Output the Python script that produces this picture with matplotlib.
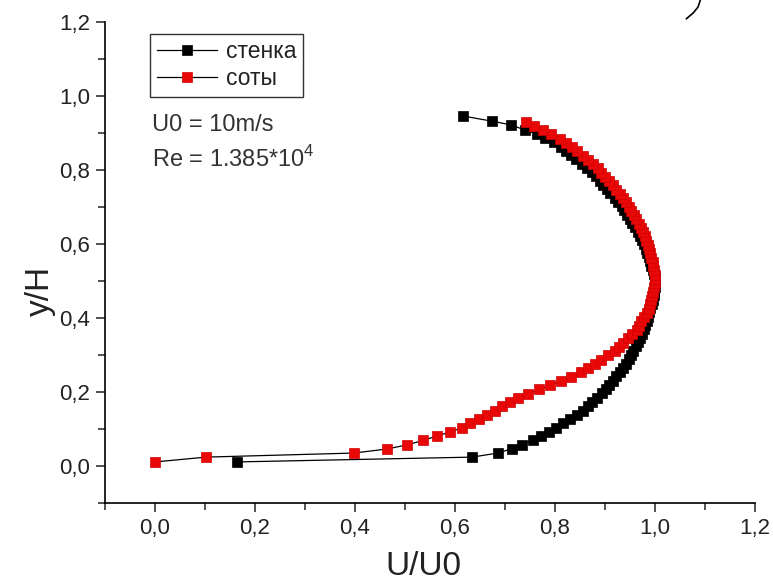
import matplotlib
matplotlib.use('Agg')
import matplotlib.pyplot as plt
from matplotlib.lines import Line2D
from matplotlib.ticker import MultipleLocator, FuncFormatter

plt.rcParams['font.family'] = ['Liberation Sans', 'DejaVu Sans']
plt.rcParams['mathtext.fontset'] = 'custom'
plt.rcParams['mathtext.rm'] = 'Liberation Sans'

# стенка (black)
wall_x = [0.164, 0.634, 0.686, 0.714, 0.734, 0.756, 0.772, 0.789, 0.802, 0.816,
          0.830, 0.844, 0.856, 0.866, 0.875, 0.885, 0.895, 0.902, 0.909, 0.916,
          0.923, 0.930, 0.936, 0.943, 0.948, 0.953, 0.957, 0.962, 0.966, 0.971,
          0.975, 0.978, 0.980, 0.984, 0.986, 0.989, 0.991, 0.994, 0.996, 0.998,
          0.999, 1.000, 1.000, 1.000, 0.999, 0.996, 0.993, 0.991, 0.988, 0.985,
          0.982, 0.978, 0.975, 0.971, 0.966, 0.961, 0.955, 0.950, 0.945, 0.939,
          0.934, 0.927, 0.920, 0.911, 0.904, 0.897, 0.890, 0.883, 0.874, 0.864,
          0.854, 0.843, 0.833, 0.823, 0.813, 0.798, 0.781, 0.764, 0.740, 0.712,
          0.674, 0.616]
wall_y = [0.011, 0.024, 0.035, 0.047, 0.058, 0.070, 0.081, 0.093, 0.104, 0.116,
          0.127, 0.139, 0.150, 0.162, 0.173, 0.185, 0.196, 0.208, 0.219, 0.231,
          0.242, 0.254, 0.265, 0.277, 0.288, 0.300, 0.311, 0.323, 0.334, 0.346,
          0.357, 0.369, 0.380, 0.392, 0.403, 0.415, 0.426, 0.438, 0.449, 0.461,
          0.472, 0.484, 0.495, 0.507, 0.518, 0.530, 0.541, 0.553, 0.564, 0.576,
          0.587, 0.599, 0.610, 0.622, 0.633, 0.645, 0.656, 0.668, 0.679, 0.691,
          0.702, 0.714, 0.725, 0.737, 0.748, 0.760, 0.771, 0.783, 0.794, 0.806,
          0.817, 0.829, 0.840, 0.852, 0.863, 0.875, 0.886, 0.897, 0.908, 0.922,
          0.932, 0.946]

# соты (red)
cell_x = [0.000, 0.102, 0.398, 0.464, 0.504, 0.536, 0.564, 0.590, 0.614, 0.631,
          0.648, 0.665, 0.680, 0.695, 0.711, 0.727, 0.747, 0.769, 0.791, 0.812,
          0.832, 0.853, 0.866, 0.880, 0.893, 0.907, 0.920, 0.929, 0.937, 0.946,
          0.955, 0.964, 0.969, 0.973, 0.978, 0.984, 0.988, 0.991, 0.993, 0.995,
          0.997, 0.999, 1.000, 1.000, 1.000, 0.998, 0.997, 0.996, 0.993, 0.991,
          0.988, 0.986, 0.983, 0.980, 0.977, 0.973, 0.968, 0.963, 0.958, 0.953,
          0.948, 0.942, 0.937, 0.930, 0.923, 0.916, 0.908, 0.900, 0.893, 0.886,
          0.877, 0.866, 0.856, 0.844, 0.834, 0.823, 0.810, 0.793, 0.776, 0.759,
          0.743]
cell_y = [0.011, 0.024, 0.035, 0.046, 0.057, 0.069, 0.081, 0.092, 0.103, 0.115,
          0.126, 0.138, 0.149, 0.161, 0.172, 0.184, 0.195, 0.207, 0.218, 0.230,
          0.241, 0.253, 0.264, 0.276, 0.287, 0.299, 0.310, 0.322, 0.333, 0.345,
          0.356, 0.368, 0.379, 0.391, 0.402, 0.414, 0.425, 0.437, 0.448, 0.460,
          0.471, 0.483, 0.494, 0.506, 0.517, 0.529, 0.540, 0.552, 0.563, 0.575,
          0.586, 0.598, 0.609, 0.621, 0.632, 0.644, 0.655, 0.667, 0.678, 0.690,
          0.701, 0.713, 0.724, 0.736, 0.747, 0.759, 0.770, 0.782, 0.793, 0.805,
          0.816, 0.828, 0.839, 0.851, 0.862, 0.874, 0.885, 0.897, 0.908, 0.920,
          0.931]

fig = plt.figure(figsize=(7.73, 5.84), dpi=100)
ax = fig.add_axes([0.1358, 0.1387, 0.8409, 0.8236])

ax.plot(wall_x, wall_y, color='black', lw=0.9, marker='s', ms=7.8,
        mfc='black', mec='black', mew=0.5, label='стенка')
ax.plot(cell_x, cell_y, color='black', lw=0.9, marker='s', ms=7.8,
        mfc='#e80808', mec='#d00000', mew=0.5, label='соты')

ax.set_xlim(-0.1, 1.2)
ax.set_ylim(-0.1, 1.2)
ax.spines['top'].set_visible(False)
ax.spines['right'].set_visible(False)
for s in ['left', 'bottom']:
    ax.spines[s].set_linewidth(1.2)

ax.xaxis.set_major_locator(MultipleLocator(0.2))
ax.xaxis.set_minor_locator(MultipleLocator(0.1))
ax.yaxis.set_major_locator(MultipleLocator(0.2))
ax.yaxis.set_minor_locator(MultipleLocator(0.1))
comma = FuncFormatter(lambda v, p: ('%.1f' % v).replace('.', ','))
ax.xaxis.set_major_formatter(comma)
ax.yaxis.set_major_formatter(comma)
ax.tick_params(which='major', direction='out', length=6.5, width=1.1,
               colors='#222222', labelsize=16, pad=4)
ax.tick_params(which='minor', direction='out', length=5, width=1.1, colors='#222222')

ax.set_xlabel('U/U0', fontsize=24, color='#222222')
ax.set_ylabel('y/H', fontsize=24, color='#222222')
ax.xaxis.set_label_coords(0.49, -0.10)
ax.yaxis.set_label_coords(-0.075, 0.44)

leg = ax.legend(loc='upper left', bbox_to_anchor=(0.07, 0.976), fontsize=16.5,
                frameon=True, fancybox=False, edgecolor='black',
                handlelength=2.6, handletextpad=0.4, borderpad=0.3,
                labelspacing=0.15, borderaxespad=0)
leg.get_frame().set_linewidth(1.0)
for t in leg.get_texts():
    t.set_color('#222222')

ax.text(0.073, 0.786, 'U0 = 10m/s', transform=ax.transAxes, fontsize=17,
        color='#333333', va='center', ha='left')
ax.text(0.073, 0.716, 'Re = 1.385*10$^4$', transform=ax.transAxes, fontsize=17,
        color='#333333', va='center', ha='left')

# stroke of scanned page text at the top edge
fig.add_artist(Line2D([0.906, 0.903, 0.897, 0.888], [1.0, 0.988, 0.978, 0.968],
                      transform=fig.transFigure, color='black', lw=1.2))

fig.savefig('out.png', dpi=100)
